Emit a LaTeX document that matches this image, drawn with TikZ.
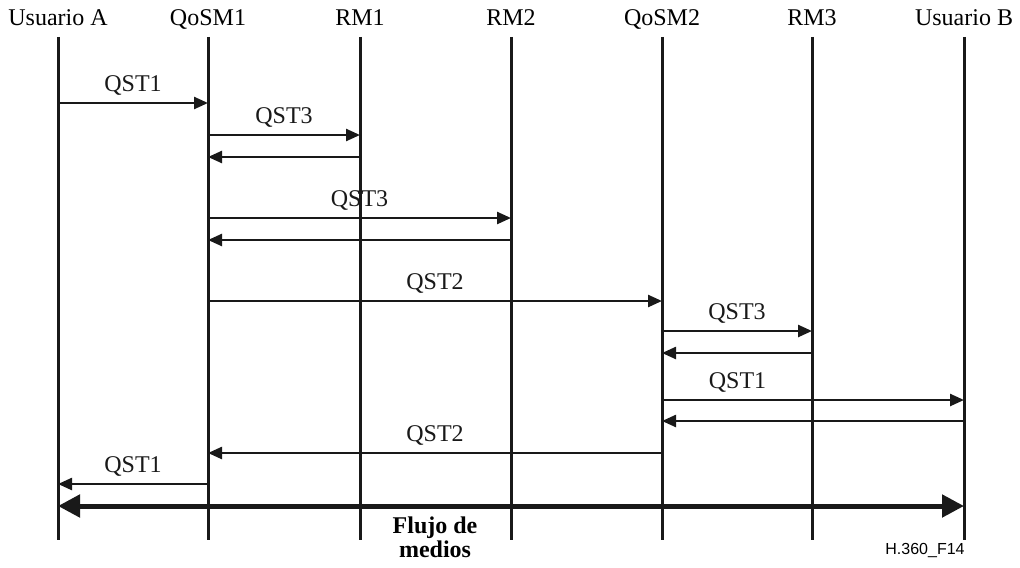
\documentclass[tikz,border=0pt]{standalone}
\usepackage{fontspec}
\setmainfont{Liberation Serif}
\setsansfont{Liberation Sans}
\usetikzlibrary{arrows.meta, positioning, calc}

\begin{document}
\begin{tikzpicture}[x=0.5pt, y=-0.5pt, every node/.style={font=\fontsize{12}{14}\selectfont},
    hdr/.style={inner sep=0pt, anchor=base},
    life/.style={line width=1.5pt, black!90},
    msg/.style={line width=1.2pt, black!90, -{Triangle[length=7pt, width=6pt]}},
    flow/.style={line width=2.5pt, black!90, {Triangle[length=11pt, width=11pt]}-{Triangle[length=11pt, width=11pt]}}]
  \useasboundingbox (0,0) rectangle (1020,567);
  % lifelines
  \foreach \n/\x/\t in {ua/58/Usuario A, q1/208/QoSM1, r1/360/RM1, r2/511/RM2,
      q2/662/QoSM2, r3/812/RM3, ub/964/Usuario B}{
    \node[hdr] (\n) at (\x,26) {\t};
    \draw[life] (\n |- 0,37) -- (\n |- 0,540);
  }
  % messages
  \foreach \a/\b/\y/\p/\t in {ua/q1/103/0.5/QST1, q1/r1/135/0.5/QST3, q1/r2/218/0.5/QST3,
      q1/q2/301/0.5/QST2, q2/r3/331/0.5/QST3, q2/ub/400/0.25/QST1, q2/q1/453/0.5/QST2,
      q1/ua/484/0.5/QST1}{
    \draw[msg] (\a |- 0,\y) -- node[pos=\p, above=0pt] {\t} (\b |- 0,\y);
  }
  % answers
  \foreach \a/\b/\y in {r1/q1/157, r2/q1/240, r3/q2/353, ub/q2/421}{
    \draw[msg] (\a |- 0,\y) -- (\b |- 0,\y);
  }
  % media flow
  \draw[flow] (ua |- 0,506) -- (ub |- 0,506);
  \node[font=\fontsize{12}{10.5}\selectfont\bfseries, align=center] (fm) at (435,537) {Flujo de\\medios};
  \node[font=\fontsize{8}{10}\selectfont\sffamily] (fig) at (925,550) {H.360\_F14};
\end{tikzpicture}
\end{document}
